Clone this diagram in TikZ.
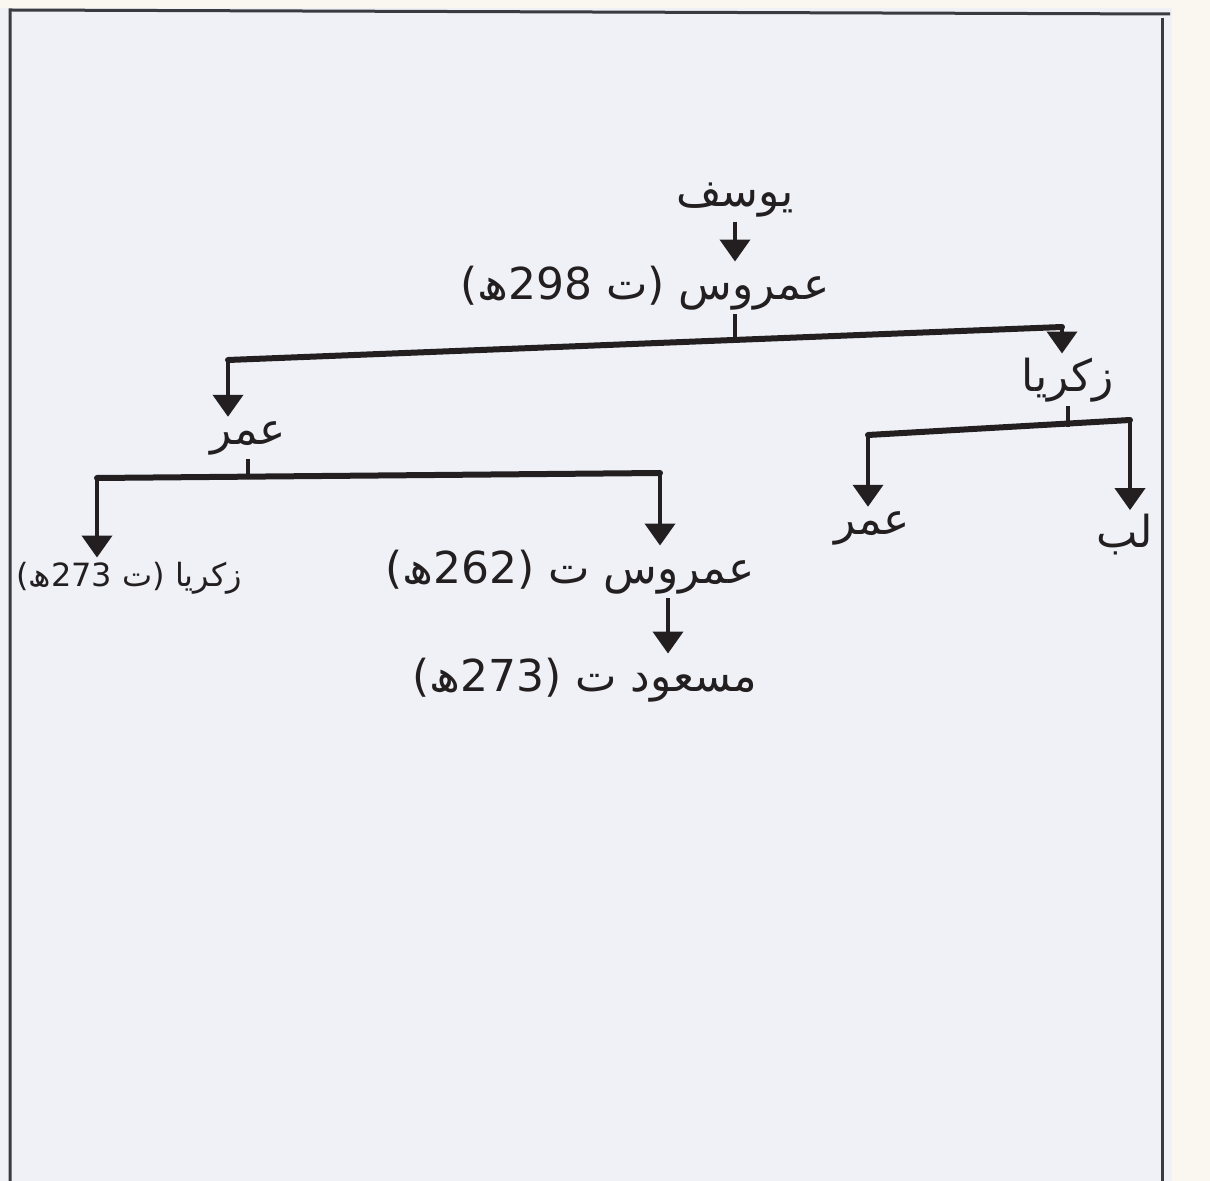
\documentclass[tikz,border=0pt]{standalone}
\usepackage{fontspec}
\newfontfamily\arabicfont[Script=Arabic]{DejaVu Sans}
\TeXXeTstate=1
\usetikzlibrary{arrows.meta}
\definecolor{paper}{HTML}{EFF1F7}
\definecolor{paperedge}{HTML}{FAF7F1}
\definecolor{ink}{HTML}{231F20}
\definecolor{frameink}{HTML}{3A3A3F}
\tikzset{
  personname/.style={font=\arabicfont\fontsize{22}{26}\selectfont, text=ink, inner sep=2pt},
  busline/.style={draw=ink, line width=3pt, line cap=round},
  stemline/.style={draw=ink, line width=2pt},
  downarrow/.style={draw=ink, line width=2pt, -{Triangle[width=15pt,length=11pt]}}
}
\begin{document}
\begin{tikzpicture}[x=0.5pt, y=-0.5pt]
  \useasboundingbox (0,0) rectangle (1210,1181);
  % the sheet
  \fill[paperedge] (0,0) rectangle (1210,1181);
  \fill[paper] (0,8) rectangle (1172,1181);
  \draw[frameink, line width=1.5pt] (10,1181) -- (10,10) -- (1170,14);
  \draw[frameink, line width=1.5pt] (1162,18) -- (1162,1181);

  % names
  \node[personname] (yusuf) at (735,200) {\beginR يوسف\endR};
  \node[personname] (amrus) at (645,288) {\beginR عمروس (ت \beginL298\endL{}ھ)\endR};
  \node[personname] (umarA) at (248,438) {\beginR عمر\endR};
  \node[personname] (zakA) at (1068,380) {\beginR زکریا\endR};
  \node[personname, font=\arabicfont\fontsize{16}{20}\selectfont, anchor=west] (zakB) at (12,578) {\beginR زکریا (ت \beginL273\endL{}ھ)\endR};
  \node[personname] (amrusB) at (570,572) {\beginR عمروس ت (\beginL262\endL{}ھ)\endR};
  \node[personname] (masud) at (585,680) {\beginR مسعود ت (\beginL273\endL{}ھ)\endR};
  \node[personname] (umarB) at (872,528) {\beginR عمر\endR};
  \node[personname] (lab) at (1125,535) {\beginR لب\endR};

  % first split
  \coordinate (busAl) at (228,360);
  \coordinate (busAm) at (735,340);
  \coordinate (busAr) at (1062,327);
  \draw[downarrow] (yusuf.south) -- (yusuf |- amrus.north);
  \draw[stemline] (amrus.south -| busAm) -- (busAm);
  \draw[busline] (busAl) -- (busAr);
  \draw[downarrow] (busAl) -- (busAl |- umarA.north);
  \draw[downarrow] (busAr) -- (busAr |- zakA.north);

  % children of umar
  \coordinate (busBl) at (97,478);
  \coordinate (busBr) at (660,473);
  \draw[stemline] (umarA.south) -- (umarA.south |- busBl);
  \draw[busline] (busBl) -- (busBr);
  \draw[downarrow] (busBl) -- (busBl |- zakB.north);
  \draw[downarrow] (busBr) -- (busBr |- amrusB.north);
  \coordinate (amrusBdrop) at (668,0);
  \draw[downarrow] (amrusB.south -| amrusBdrop) -- (masud.north -| amrusBdrop);

  % children of zakariya
  \coordinate (busCl) at (868,435);
  \coordinate (busCm) at (1068,427);
  \coordinate (busCr) at (1130,420);
  \draw[stemline] (zakA.south -| busCm) -- (busCm);
  \draw[busline] (busCl) -- (busCr);
  \draw[downarrow] (busCl) -- (busCl |- umarB.north);
  \draw[downarrow] (busCr) -- (busCr |- lab.north);
\end{tikzpicture}
\end{document}
